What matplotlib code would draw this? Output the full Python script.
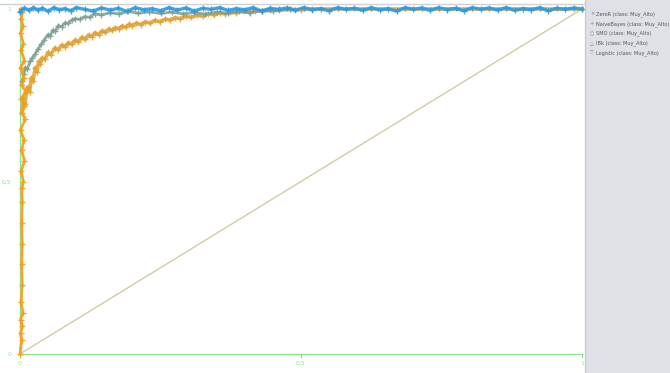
import numpy as np
import matplotlib
matplotlib.use("Agg")
from matplotlib import pyplot as plt
from matplotlib.lines import Line2D
from matplotlib.patches import Rectangle

# ZeroR -> diagonal
zeror_fpr = [0.0, 1.0]
zeror_tpr = [0.0, 1.0]

# NaiveBayes (gold, bending curve)
nb_fpr = [0.003, 0.006, 0.009, 0.012, 0.014, 0.017, 0.020, 0.023, 0.027, 0.030, 0.033, 0.036, 0.039,
          0.044, 0.050, 0.055, 0.062, 0.068, 0.074, 0.080, 0.086, 0.092, 0.098, 0.104, 0.110, 0.116,
          0.122, 0.128, 0.133, 0.140, 0.146, 0.152, 0.158, 0.164, 0.169, 0.176, 0.182, 0.188, 0.194,
          0.199, 0.207, 0.215, 0.223, 0.231, 0.240, 0.249, 0.258, 0.267, 0.276, 0.285, 0.295, 0.305,
          0.315, 0.325, 0.335, 0.345, 0.355, 0.365, 0.374, 0.385, 0.396, 0.407, 0.418, 0.430, 0.445,
          0.460, 0.480, 0.500, 0.520, 1.000]
nb_tpr = [0.700, 0.742, 0.725, 0.768, 0.774, 0.760, 0.800, 0.790, 0.830, 0.818, 0.848, 0.840, 0.858,
          0.854, 0.874, 0.868, 0.887, 0.882, 0.895, 0.891, 0.902, 0.898, 0.910, 0.905, 0.918, 0.912,
          0.925, 0.920, 0.931, 0.926, 0.937, 0.932, 0.942, 0.938, 0.946, 0.943, 0.951, 0.947, 0.956,
          0.952, 0.959, 0.955, 0.963, 0.959, 0.967, 0.963, 0.971, 0.968, 0.975, 0.972, 0.979, 0.976,
          0.982, 0.979, 0.986, 0.983, 0.989, 0.986, 0.991, 0.989, 0.993, 0.991, 0.995, 0.994, 0.997,
          0.996, 0.999, 0.998, 1.000, 1.000]

# SMO (grey-teal curve)
smo_fpr = [0.004, 0.007, 0.009, 0.013, 0.018, 0.022, 0.027, 0.032, 0.038, 0.043, 0.050, 0.054, 0.058,
           0.063, 0.068, 0.074, 0.080, 0.086, 0.092, 0.098, 0.106, 0.115, 0.124, 0.133, 0.145, 0.160,
           0.176, 0.192, 0.210, 0.230, 0.250, 0.270, 0.290, 0.310, 0.330, 0.350, 0.370, 0.390, 0.410,
           0.430, 0.450, 0.480]
smo_tpr = [0.790, 0.812, 0.830, 0.826, 0.848, 0.858, 0.870, 0.884, 0.898, 0.910, 0.926, 0.922, 0.938,
           0.935, 0.952, 0.949, 0.960, 0.958, 0.968, 0.972, 0.970, 0.978, 0.976, 0.986, 0.983, 0.989,
           0.986, 0.993, 0.988, 0.992, 0.987, 0.991, 0.986, 0.990, 0.985, 0.991, 0.987, 0.993, 0.989,
           0.995, 0.994, 1.000]

# IBk (orange, along the left axis)
ibk_fpr = [0.000, 0.003, 0.001, 0.004, 0.001, 0.005, 0.002, 0.004, 0.003, 0.004, 0.003, 0.004, 0.003,
           0.006, 0.002, 0.008, 0.003, 0.007, 0.001, 0.009, 0.004, 0.008, 0.002, 0.010, 0.003, 0.007,
           0.001, 0.008, 0.002, 0.006, 0.001, 0.005, 0.002, 0.004, 0.001]
ibk_tpr = [0.000, 0.040, 0.060, 0.080, 0.100, 0.120, 0.150, 0.200, 0.260, 0.320, 0.380, 0.440, 0.480,
           0.500, 0.530, 0.560, 0.590, 0.620, 0.650, 0.680, 0.700, 0.720, 0.740, 0.760, 0.780, 0.800,
           0.830, 0.850, 0.880, 0.900, 0.930, 0.950, 0.970, 0.990, 1.000]

# Logistic (blue, near the top)
log_fpr = [0.000, 0.008, 0.016, 0.024, 0.032, 0.040, 0.050, 0.060, 0.070, 0.080, 0.090, 0.100, 0.115,
           0.130, 0.145, 0.160, 0.175, 0.190, 0.205, 0.220, 0.235, 0.250, 0.265, 0.280, 0.295, 0.310,
           0.325, 0.340, 0.355, 0.370, 0.385, 0.400, 0.415, 0.430, 0.445, 0.460, 0.475, 0.490, 0.505,
           0.520, 0.535, 0.550, 0.565, 0.580, 0.595, 0.610, 0.625, 0.640, 0.655, 0.670, 0.685, 0.700,
           0.715, 0.730, 0.745, 0.760, 0.775, 0.790, 0.805, 0.820, 0.835, 0.850, 0.865, 0.880, 0.895,
           0.910, 0.925, 0.940, 0.955, 0.970, 0.985, 1.000]
log_tpr = [0.992, 1.003, 0.996, 1.004, 0.997, 1.002, 0.993, 1.004, 0.998, 1.001, 0.995, 1.004, 0.999,
           0.994, 1.003, 0.997, 1.002, 0.993, 1.004, 0.998, 1.001, 0.995, 1.004, 0.997, 1.003, 0.994,
           1.002, 0.999, 1.004, 0.996, 1.001, 0.998, 1.004, 0.994, 1.002, 0.999, 1.003, 0.996, 1.004,
           0.998, 1.001, 0.995, 1.004, 0.999, 1.002, 0.996, 1.004, 0.997, 1.001, 0.994, 1.004, 0.999,
           1.003, 0.996, 1.004, 0.998, 1.002, 0.995, 1.004, 0.999, 1.003, 0.997, 1.004, 0.996, 1.001,
           0.998, 1.004, 0.995, 1.002, 0.999, 1.003, 1.000]

legend_labels = ["ZeroR (class: Muy_Alto)", "NaiveBayes (class: Muy_Alto)", "SMO (class: Muy_Alto)",
                 "IBk (class: Muy_Alto)", "Logistic (class: Muy_Alto)"]
legend_marks = ["\u00d7", "+", "\u25cb", "\u25b3", "\u25bd"]

W, H = 670, 373
fig = plt.figure(figsize=(W / 100, H / 100), dpi=100)
fig.patch.set_facecolor("white")

# right-side legend panel
fig.patches.append(Rectangle((585 / W, 0), 1 - 585 / W, 1, transform=fig.transFigure,
                             facecolor="#dfe1e6", edgecolor="none", zorder=0))
fig.lines.append(Line2D([585 / W, 585 / W], [0, 1], transform=fig.transFigure,
                        color="#c9ccd2", lw=1.0))
# thin grey line across the top of the plot area
fig.lines.append(Line2D([0, 585 / W], [1 - 3.5 / H, 1 - 3.5 / H], transform=fig.transFigure,
                        color="#cfd1d6", lw=1.0))

ax = fig.add_axes([20 / W, 19 / H, 562 / W, 350 / H])
ax.set_xlim(0, 1)
ax.set_ylim(0, 1.0145)

green = "#8ee68e"
for s in ["top", "right"]:
    ax.spines[s].set_visible(False)
for s in ["left", "bottom"]:
    ax.spines[s].set_color(green)
    ax.spines[s].set_linewidth(1.0)
ax.spines["left"].set_bounds(0, 1)

ax.set_xticks([0, 0.5, 1])
ax.set_xticklabels(["0", "0.5", "1"])
ax.set_yticks([0, 0.5, 1])
ax.set_yticklabels(["0", "0.5", "1"])
ax.tick_params(axis="x", colors=green, labelsize=4.5, length=3, width=0.8, pad=2)
ax.tick_params(axis="y", colors=green, labelsize=4.5, length=0, pad=6)

ax.plot(zeror_fpr, zeror_tpr, color="#d6c9a9", lw=1.0, zorder=2)
ax.plot(nb_fpr, nb_tpr, color="#e0a030", lw=2.6, alpha=0.85, marker="+", ms=4.5, mew=1.0,
        zorder=3, clip_on=False)
ax.plot(smo_fpr, smo_tpr, color="#7f9e94", lw=2.0, alpha=0.85, marker="+", ms=4, mew=1.0,
        zorder=4, clip_on=False)
ax.plot(ibk_fpr, ibk_tpr, color="#f59d1a", lw=2.0, alpha=0.9, marker="+", ms=4, mew=1.0,
        zorder=5, clip_on=False)
ax.plot(log_fpr, log_tpr, color="#2e9ae0", lw=2.4, alpha=0.9, marker="+", ms=4, mew=1.0,
        zorder=6, clip_on=False)

# legend entries in the side panel
for i, (mk, lab) in enumerate(zip(legend_marks, legend_labels)):
    y = 1 - (14 + i * 9.8) / H
    fig.text(592 / W, y, mk, color="#808080", fontsize=3.6, va="center", ha="center")
    fig.text(596 / W, y, lab, color="#555555", fontsize=3.6, va="center", ha="left")

fig.savefig("out.png", dpi=100)
